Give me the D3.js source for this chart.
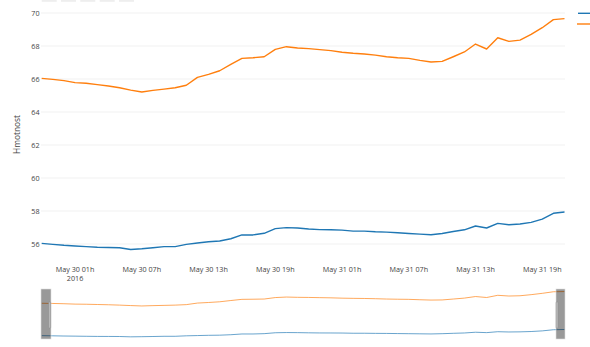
<!DOCTYPE html>
<html><head><meta charset="utf-8">
<script src="https://cdn.jsdelivr.net/npm/d3@7"></script>
<style>
html,body{margin:0;padding:0;background:#fff;}
svg{display:block;font-family:"Open Sans",sans-serif;}
</style></head>
<body>
<svg id="c" width="590" height="347"></svg>
<script>
// Hourly samples from 2016-05-29 22:00 to 2016-05-31 21:00
const startTime = "2016-05-29T22:00:00";
const seriesOrange = [66.04,65.98,65.9,65.78,65.74,65.66,65.58,65.47,65.33,65.21,65.31,65.39,65.47,65.62,66.1,66.28,66.5,66.89,67.25,67.29,67.35,67.8,67.96,67.88,67.84,67.78,67.72,67.62,67.56,67.52,67.45,67.35,67.29,67.25,67.13,67.03,67.07,67.35,67.64,68.12,67.82,68.5,68.28,68.36,68.7,69.11,69.6,69.66];
const seriesBlue = [56.04,55.98,55.92,55.88,55.84,55.8,55.79,55.77,55.67,55.71,55.77,55.84,55.84,55.98,56.06,56.14,56.18,56.32,56.55,56.55,56.65,56.93,56.99,56.97,56.91,56.87,56.86,56.84,56.78,56.78,56.74,56.72,56.68,56.64,56.6,56.56,56.64,56.76,56.86,57.09,56.97,57.25,57.17,57.21,57.31,57.51,57.86,57.94];
const yTicks = [56,58,60,62,64,66,68,70];
const xTickHours = ["2016-05-30T01:00:00","2016-05-30T07:00:00","2016-05-30T13:00:00","2016-05-30T19:00:00","2016-05-31T01:00:00","2016-05-31T07:00:00","2016-05-31T13:00:00","2016-05-31T19:00:00"];
const yDomain = [55.0, 70.45];
const yTitle = "Hmotnost";
const colors = {blue:"#1f77b4", orange:"#ff7f0e"};

const parse = d3.isoParse;
const t0 = parse(startTime);
const times = seriesOrange.map((_, i) => new Date(t0.getTime() + i * 3600e3));
const dOrange = times.map((t, i) => ({t, v: seriesOrange[i]}));
const dBlue = times.map((t, i) => ({t, v: seriesBlue[i]}));

const svg = d3.select("#c");
const L = 41.7, R = 564.5;
const x = d3.scaleTime().domain([times[0], times[times.length-1]]).range([L, R]);
const y = d3.scaleLinear().domain(yDomain).range([260.5, 5.6]);

// range selector buttons (cut off at top)
const btnX = [41.7, 61, 80.3, 99.7, 119];
svg.selectAll("rect.btn").data(btnX).join("rect")
  .attr("class","btn").attr("x", d => d).attr("y", -20).attr("width", 15).attr("height", 21.8)
  .attr("fill", "#eee");

// grid
svg.append("g").selectAll("line").data(yTicks).join("line")
  .attr("x1", L - 0.7).attr("x2", R + 0.5)
  .attr("y1", d => y(d)).attr("y2", d => y(d))
  .attr("stroke", "#eee").attr("stroke-width", 0.8);

// y tick labels
svg.append("g").selectAll("text").data(yTicks).join("text")
  .attr("x", 39.5).attr("y", d => y(d)).attr("dy", "0.35em")
  .attr("text-anchor", "end").attr("font-size", 7.2).attr("fill", "#444")
  .text(d => d);

// y title
svg.append("text").attr("transform", "translate(19.5,134.5) rotate(-90)")
  .attr("text-anchor", "middle").attr("font-size", 8.4).attr("fill", "#444").text(yTitle);

// x tick labels
const fmt = d3.timeFormat("%b %d %Hh");
const xt = svg.append("g").selectAll("text").data(xTickHours.map(parse)).join("text")
  .attr("x", d => x(d)).attr("y", 271.5)
  .attr("text-anchor", "middle").attr("font-size", 7.2).attr("fill", "#444")
  .text(d => fmt(d));
svg.append("text").attr("x", x(parse(xTickHours[0]))).attr("y", 280.5)
  .attr("text-anchor", "middle").attr("font-size", 7.2).attr("fill", "#444").text("2016");

// lines
const line = d3.line().x(d => x(d.t)).y(d => y(d.v));
svg.append("path").datum(dBlue).attr("d", line).attr("fill", "none")
  .attr("stroke", colors.blue).attr("stroke-width", 1.4).attr("stroke-linejoin", "round");
svg.append("path").datum(dOrange).attr("d", line).attr("fill", "none")
  .attr("stroke", colors.orange).attr("stroke-width", 1.4).attr("stroke-linejoin", "round");

// legend (text cut off beyond the right edge)
svg.append("line").attr("x1", 578).attr("x2", 600).attr("y1", 13.3).attr("y2", 13.3)
  .attr("stroke", colors.blue).attr("stroke-width", 1.4);
svg.append("line").attr("x1", 577).attr("x2", 600).attr("y1", 24).attr("y2", 24)
  .attr("stroke", colors.orange).attr("stroke-width", 1.4);

// range slider
const ys = d3.scaleLinear().domain(yDomain).range([339, 289]);
const lineS = d3.line().x(d => x(d.t)).y(d => ys(d.v));
svg.append("path").datum(dBlue).attr("d", lineS).attr("fill", "none")
  .attr("stroke", colors.blue).attr("stroke-width", 0.9).attr("opacity", 0.75);
svg.append("path").datum(dOrange).attr("d", lineS).attr("fill", "none")
  .attr("stroke", colors.orange).attr("stroke-width", 0.9).attr("opacity", 0.75);

const masks = [[L - 0.7, 10], [R - 8.5, 9]];
svg.selectAll("rect.mask").data(masks).join("rect").attr("class","mask")
  .attr("x", d => d[0]).attr("y", 289).attr("width", d => d[1]).attr("height", 50)
  .attr("fill", "rgba(0,0,0,0.4)").attr("stroke", "#ddd").attr("stroke-width", 0.6);
const handles = [L + 7, R - 8.5];
svg.selectAll("rect.handle").data(handles).join("rect").attr("class","handle")
  .attr("x", d => d).attr("y", 302).attr("width", 2).attr("height", 26).attr("rx", 0.6)
  .attr("fill", "#bdbdbd").attr("stroke", "#8a8a8a").attr("stroke-width", 0.5);
</script>
</body></html>
